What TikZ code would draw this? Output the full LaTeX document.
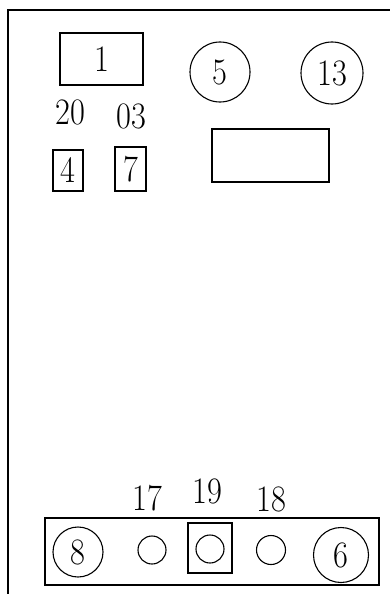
\documentclass[tikz,border=0pt]{standalone}
\usepackage{graphicx}
\newcommand{\bigdig}[1]{\scalebox{1.3}[1.5]{\fontsize{24.88}{24.88}\selectfont #1}}
\begin{document}
\begin{tikzpicture}[x=1pt,y=-1pt,
  lbl/.style={inner sep=0pt},
  rbox/.style={draw, line width=1.6pt, rectangle, inner sep=0pt, outer sep=0pt},
  rcirc/.style={draw, line width=1.1pt, circle, inner sep=0pt, outer sep=0pt}]
\useasboundingbox (0,0) rectangle (390,594);
% frame lines
\coordinate (tr) at (390,10);
\coordinate (tl) at (8,10);
\coordinate (bl) at (8,594);
\draw[line width=2pt] (tr) -- (tl) -- (bl);
% top area
\node[rbox, minimum width=83pt, minimum height=52pt] (b1) at (101.5,59) {\bigdig{1}};
\node[rcirc, minimum size=60pt] (c5) at (220,72) {\bigdig{5}};
\node[rcirc, minimum size=62pt] (c13) at (332,73) {\bigdig{13}};
\node[lbl] (t20) at (70,112) {\bigdig{20}};
\node[lbl] (t03) at (131,116) {\bigdig{03}};
\node[rbox, minimum width=30pt, minimum height=41pt] (b4) at (68,170.5) {\bigdig{4}};
\node[rbox, minimum width=31pt, minimum height=44pt] (b7) at (130.5,169) {\bigdig{7}};
\node[rbox, minimum width=117pt, minimum height=53pt] (eb) at (270.5,155.5) {};
% bottom area
\node[rbox, minimum width=334pt, minimum height=67pt] (bb) at (212,551.5) {};
\node[rcirc, minimum size=50pt] (c8) at (78,552) {\bigdig{8}};
\node[rcirc, minimum size=28pt] (c17) at (152,550) {};
\node[rbox, minimum width=44pt, minimum height=50pt] (b19) at (210,548) {};
\node[rcirc, minimum size=28pt] (c19) at (210,549) {};
\node[rcirc, minimum size=29pt] (c18) at (271,550) {};
\node[rcirc, minimum size=55pt] (c6) at (341,555) {\bigdig{6}};
\node[lbl] (t17) at (147,498) {\bigdig{17}};
\node[lbl] (t19) at (207,491) {\bigdig{19}};
\node[lbl] (t18) at (271,499) {\bigdig{18}};
\end{tikzpicture}
\end{document}
